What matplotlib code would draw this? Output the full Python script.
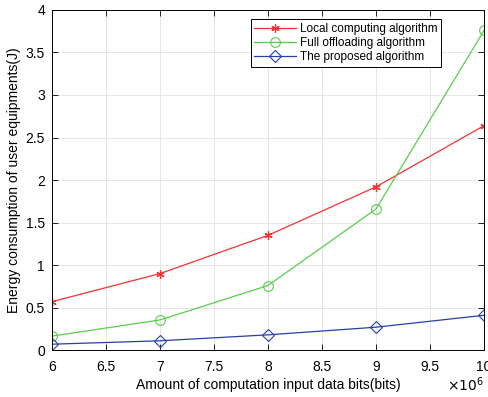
import numpy as np
import matplotlib
matplotlib.use("Agg")
from matplotlib import pyplot as plt
from matplotlib.ticker import FuncFormatter, MultipleLocator

plt.rcParams['font.family'] = ['Liberation Sans', 'DejaVu Sans']

# data
bits = [6e6, 7e6, 8e6, 9e6, 10e6]
local = [0.57, 0.90, 1.35, 1.92, 2.64]
full = [0.165, 0.355, 0.76, 1.66, 3.76]
proposed = [0.07, 0.11, 0.18, 0.27, 0.41]

fig = plt.figure(figsize=(4.89, 3.97), dpi=100)
ax = fig.add_axes([0.106, 0.118, 0.884, 0.857])

ax.plot(bits, local, '-', marker=(6, 2, 0), color=(0.95, 0.2, 0.2), lw=0.9, ms=6, mew=0.9,
        label='Local computing algorithm')
ax.plot(bits, full, '-o', color=(0.35, 0.8, 0.3), lw=0.9, ms=7, mew=0.8,
        mfc='none', label='Full offloading algorithm')
ax.plot(bits, proposed, '-D', color=(0.15, 0.25, 0.65), lw=0.9, ms=6, mew=0.8,
        mfc='none', label='The proposed algorithm')

ax.set_xlim(6e6, 10e6)
ax.set_ylim(0, 4)
ax.xaxis.set_major_locator(MultipleLocator(0.5e6))
ax.yaxis.set_major_locator(MultipleLocator(0.5))
ax.xaxis.set_major_formatter(FuncFormatter(lambda v, p: f"{v/1e6:g}"))
ax.yaxis.set_major_formatter(FuncFormatter(lambda v, p: f"{v:g}"))
ax.tick_params(direction='in', top=True, right=True, labelsize=10, length=4, width=0.6)
ax.tick_params(axis='x', pad=7)
ax.tick_params(axis='y', pad=5)
ax.grid(True, color='#e6e6e6', lw=0.7)
ax.set_axisbelow(True)
for s in ax.spines.values():
    s.set_linewidth(0.7)

ax.set_xlabel('Amount of computation input data bits(bits)', fontsize=10, labelpad=3)
ax.set_ylabel('Energy consumption of user equipments(J)', fontsize=10, labelpad=3)
# exponent for the x axis, below the last tick label
fig.text(0.99, 0.008, r'$\times10^6$', ha='right', va='bottom', fontsize=10)

leg = ax.legend(loc='upper right', bbox_to_anchor=(0.915, 0.99), fontsize=8.5,
                fancybox=False, edgecolor='black', framealpha=1,
                handlelength=3.5, borderpad=0.3, labelspacing=0.2, handletextpad=0.4)
leg.get_frame().set_linewidth(0.7)

plt.savefig("out.png", dpi=100)
